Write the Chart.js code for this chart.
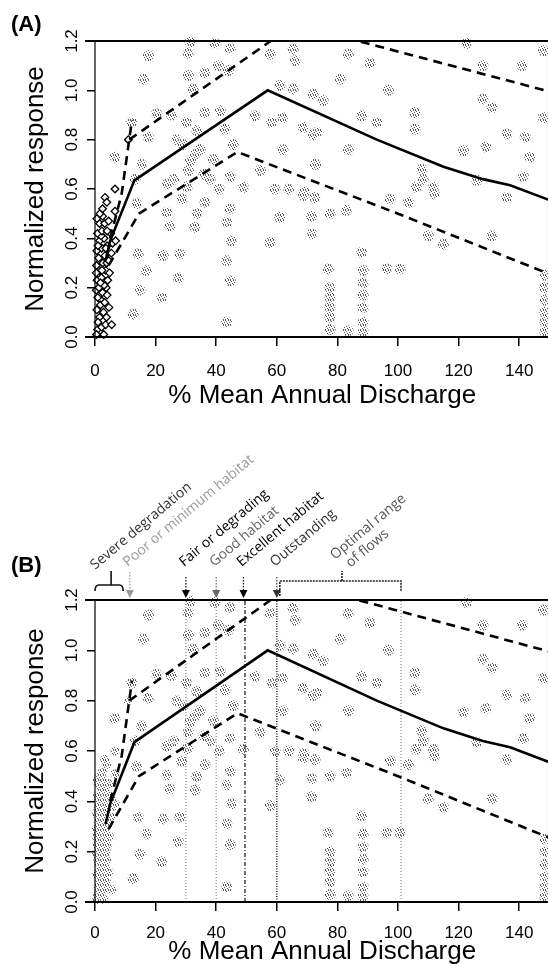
<!DOCTYPE html>
<html>
<head>
<meta charset="utf-8">
<script src="https://cdn.jsdelivr.net/npm/chart.js@4.4.1/dist/chart.umd.min.js"></script>
<style>
  html, body { margin: 0; padding: 0; background: #fff; }
  #page { position: relative; width: 548px; height: 964px; overflow: hidden; font-family: "Liberation Sans", Arial, sans-serif; }
  canvas { position: absolute; left: 0; }
  .tag { position: absolute; left: 11px; font-size: 22px; font-weight: bold; color: #000; }
</style>
</head>
<body>
<div id="page">
  <canvas id="chartA" width="555" height="420" style="top:0px"></canvas>
  <canvas id="chartB" width="555" height="560" style="top:420px"></canvas>
  <div class="tag" style="top:11px">(A)</div>
  <div class="tag" style="top:552px">(B)</div>
</div>
<script>
const xTicks = [0, 20, 40, 60, 80, 100, 120, 140];
const yTicks = [0, 0.2, 0.4, 0.6, 0.8, 1.0, 1.2];
const yTickText = ['0.0', '0.2', '0.4', '0.6', '0.8', '1.0', '1.2'];

// fitted response and its upper / lower bounds
const fitX = [3.5, 5, 13, 57, 93, 115, 128, 137, 150];
const fitY = [0.31, 0.39, 0.635, 1.0, 0.80, 0.69, 0.64, 0.615, 0.555];
const upperX = [5, 8.8, 12.2, 12, 11.3, 58, 65.8, 93, 150];
const upperY = [0.40, 0.58, 0.88, null, 0.80, 1.2, 1.267, 1.18, 0.995];
const lowerX = [4.5, 14.5, 47, 100, 150];
const lowerY = [0.29, 0.50, 0.75, 0.50, 0.255];

// observations at very low flows (diamonds in A)
const lowFlowPoints = [
  [0.8, 0.03], [2.2, 0.04], [3.5, 0.05], [1.5, 0.08], [2.8, 0.10], [0.6, 0.11], [5.5, 0.05],
  [1.0, 0.06], [3.8, 0.08], [2.0, 0.15], [0.4, 0.19], [3.7, 0.20], [0.5, 0.01], [2.9, 0.01],
  [1.8, 0.13], [3.2, 0.14], [0.9, 0.16], [2.5, 0.18], [4.0, 0.17], [1.3, 0.20], [4.6, 0.12],
  [3.0, 0.21], [0.7, 0.23], [2.1, 0.24], [4.2, 0.23], [1.5, 0.27], [3.5, 0.27], [0.5, 0.29], [2.6, 0.30], [2.3, 0.27],
  [4.8, 0.26], [1.8, 0.22], [0.4, 0.26], [3.9, 0.30],
  [4.5, 0.31], [1.2, 0.32], [3.3, 0.33], [5.4, 0.34], [0.6, 0.35], [2.2, 0.36], [4.0, 0.37], [1.5, 0.39],
  [3.0, 0.40], [5.8, 0.38], [6.8, 0.39], [1.0, 0.37], [3.6, 0.36], [2.0, 0.41], [5.2, 0.42],
  [0.8, 0.42], [2.3, 0.43], [4.0, 0.43], [1.5, 0.46], [3.2, 0.46], [0.6, 0.48], [2.5, 0.49], [4.5, 0.47], [6.6, 0.51],
  [1.6, 0.50], [3.3, 0.566], [3.9, 0.546], [6.6, 0.60], [2.5, 0.52], [11, 0.80]
];

// all other observations (grey stippled clumps)
const sitePoints = [
  [17.6, 1.14], [30.8, 1.15], [31.4, 1.195], [39.6, 1.19], [44.6, 1.17], [16, 1.045], [30.8, 1.06], [36.3, 1.07],
  [40.7, 1.10], [44, 1.08], [32.4, 1.005], [57.8, 1.147], [65.4, 1.167], [66, 1.12], [61, 1.02], [65.4, 1.005],
  [72, 0.985], [12.1, 0.87], [20.3, 0.905], [25.3, 0.90], [30.2, 0.87], [36.3, 0.91], [41.3, 0.917], [33.6, 0.837],
  [42.9, 0.843], [52.8, 0.897], [58.3, 0.87], [62, 0.89], [68.7, 0.85], [72, 0.82], [17.6, 0.81], [6.6, 0.73],
  [15.4, 0.70], [34.7, 0.76], [31.4, 0.715], [39, 0.72], [45.6, 0.78], [30.8, 0.675], [44.6, 0.65], [54.5, 0.675],
  [62, 0.76], [23.7, 0.62], [13.2, 0.64], [30.5, 0.61], [49, 0.607], [59.4, 0.60], [64, 0.60], [69, 0.59], [73, 0.70],
  [27, 0.80], [29, 0.78], [33, 0.74], [36, 0.66], [38, 0.64], [41, 0.60], [26, 0.64],
  [83.6, 1.147], [90.8, 1.11], [80.9, 1.045], [96.8, 1.0], [75.3, 0.958], [88, 0.897], [93, 0.87], [73.2, 0.83],
  [105.6, 0.91], [105.6, 0.843], [83.6, 0.76], [72.6, 0.70], [107.8, 0.68], [108.3, 0.64], [106, 0.607], [111.7, 0.607],
  [121.6, 0.755], [128, 1.10], [128, 0.965], [131, 0.93], [141, 1.10], [148, 1.16], [148, 0.89], [135.9, 0.823],
  [142, 0.81], [129, 0.77], [143.5, 0.73], [141.4, 0.65], [126, 0.635], [122.6, 1.19],
  [13.7, 0.54], [23.7, 0.505], [24.7, 0.45], [28.6, 0.56], [36.3, 0.546], [33.6, 0.5], [33, 0.445], [44.6, 0.52],
  [43.5, 0.465], [61, 0.485], [57.8, 0.383], [71.5, 0.49], [71.5, 0.418], [68.7, 0.573], [45, 0.39], [14.3, 0.337],
  [22.5, 0.33], [28, 0.337], [43.5, 0.31], [17, 0.27], [27.5, 0.24], [44.6, 0.228], [14.8, 0.19], [22, 0.16],
  [12.6, 0.093], [43.5, 0.06],
  [72.6, 0.566], [77.6, 0.5], [83, 0.513], [97.4, 0.56], [103.4, 0.546], [112, 0.58], [135.9, 0.566],
  [110, 0.41], [115, 0.377], [131, 0.41], [88, 0.343], [77, 0.276], [96.3, 0.276], [100.7, 0.276],
  [77.6, 0.20], [77.6, 0.16], [77.6, 0.12], [77.6, 0.08], [77.6, 0.03],
  [88.5, 0.27], [88.5, 0.22], [88.5, 0.17], [88.5, 0.12], [88.5, 0.06], [88.5, 0.02], [83.5, 0.025],
  [148.5, 0.25], [148.5, 0.20], [148.5, 0.15], [148.5, 0.10], [148.5, 0.06], [148.5, 0.02]
];

// habitat classes marked above panel B
const thresholdNames = ['Poor or minimum habitat', 'Fair or degrading', 'Good habitat', 'Excellent habitat', 'Outstanding'];
const thresholdX = [11.5, 30, 40, 49, 60];
const severeRange = [0, 9.3];
const optimalRange = [60, 101];
const guideX = [30, 40, 49.5, 60, 101];

const FONT = '"Liberation Sans", Arial, sans-serif';
Chart.defaults.font.family = FONT;
Chart.defaults.color = '#000';

function stipple() {
  const c = document.createElement('canvas');
  c.width = 5; c.height = 5;
  const g = c.getContext('2d');
  g.fillStyle = '#5a5a5a';
  [[0, 0], [3, 0], [1, 1], [4, 2], [2, 3], [0, 4], [3, 4]].forEach(p => g.fillRect(p[0], p[1], 1, 1));
  return g.createPattern(c, 'repeat');
}

const toXY = (xs, ys) => xs.map((x, i) => ({ x: x, y: ys[i] }));
const pairs = arr => arr.map(p => ({ x: p[0], y: p[1] }));

function curveSets() {
  return [
    { data: toXY(fitX, fitY), showLine: true, borderColor: '#000', borderWidth: 2.6, pointRadius: 0, clip: 1 },
    { data: toXY(upperX, upperY), showLine: true, borderColor: '#000', borderWidth: 2.6, borderDash: [9, 6], pointRadius: 0, clip: 1 },
    { data: toXY(lowerX, lowerY), showLine: true, borderColor: '#000', borderWidth: 2.6, borderDash: [9, 6], pointRadius: 0, clip: 1 }
  ];
}

const frame = {
  id: 'frame',
  afterDraw(chart) {
    const { ctx, chartArea: a, scales: { x, y } } = chart;
    const yTop = y.getPixelForValue(1.2), yBot = y.getPixelForValue(0);
    const xR = x.getPixelForValue(150);
    ctx.save();
    ctx.strokeStyle = '#000';
    ctx.lineWidth = 2;
    ctx.beginPath();
    ctx.moveTo(a.left - 10, yTop); ctx.lineTo(xR, yTop);
    ctx.moveTo(a.left - 10, yBot); ctx.lineTo(xR, yBot);
    ctx.stroke();
    ctx.lineWidth = 1.2;
    ctx.beginPath();
    ctx.moveTo(x.getPixelForValue(0), yTop); ctx.lineTo(x.getPixelForValue(0), yBot);
    ctx.stroke();
    ctx.strokeStyle = '#666';
    ctx.setLineDash([1.5, 1.5]);
    ctx.beginPath();
    ctx.moveTo(xR - 1, yTop); ctx.lineTo(xR - 1, yBot);
    ctx.stroke();
    ctx.setLineDash([]);
    // y tick labels, turned like the original
    ctx.fillStyle = '#000';
    ctx.font = '17px ' + FONT;
    ctx.textAlign = 'center';
    ctx.textBaseline = 'middle';
    yTicks.forEach((v, i) => {
      ctx.save();
      ctx.translate(72, y.getPixelForValue(v));
      ctx.rotate(-Math.PI / 2);
      ctx.fillText(yTickText[i], 0, 0);
      ctx.restore();
    });
    ctx.restore();
  }
};

const habitatNotes = {
  id: 'habitatNotes',
  afterDraw(chart) {
    const { ctx, scales: { x, y } } = chart;
    const top = y.getPixelForValue(1.2);
    const ang = -40 * Math.PI / 180;
    ctx.save();

    function label(text, sx, sy, color, dx, dy) {
      ctx.save();
      ctx.translate(sx, sy);
      ctx.rotate(ang);
      ctx.fillStyle = color;
      ctx.font = '14px "Open Sans", sans-serif';
      ctx.textAlign = 'left';
      ctx.textBaseline = 'alphabetic';
      ctx.fillText(text, dx || 0, dy || 0);
      ctx.restore();
    }
    function arrow(px, y0, color) {
      ctx.strokeStyle = color;
      ctx.fillStyle = color;
      ctx.lineWidth = 1.2;
      ctx.setLineDash([1.5, 1.5]);
      ctx.beginPath(); ctx.moveTo(px, y0); ctx.lineTo(px, top - 9); ctx.stroke();
      ctx.setLineDash([]);
      ctx.beginPath();
      ctx.moveTo(px - 4, top - 10); ctx.lineTo(px + 4, top - 10); ctx.lineTo(px, top - 2);
      ctx.closePath(); ctx.fill();
    }

    const colors = ['#9a9a9a', '#000', '#666', '#000', '#333'];
    thresholdNames.forEach((name, i) => {
      const px = x.getPixelForValue(thresholdX[i]);
      arrow(px, i === 0 ? top - 28 : top - 23, colors[i]);
      label(name, px - 2, top - 33, colors[i]);
    });

    // severe degradation brace
    const sl = x.getPixelForValue(severeRange[0]), sr = x.getPixelForValue(severeRange[1]);
    const sm = (sl + sr) / 2 + 2;
    ctx.strokeStyle = '#111';
    ctx.lineWidth = 1.6;
    ctx.beginPath();
    ctx.moveTo(sl, top - 9); ctx.quadraticCurveTo(sl, top - 15, sl + 4, top - 15);
    ctx.lineTo(sr - 4, top - 15); ctx.quadraticCurveTo(sr, top - 15, sr, top - 9);
    ctx.moveTo(sm, top - 15); ctx.lineTo(sm, top - 29);
    ctx.stroke();
    label('Severe degradation', sl, top - 30, '#333');

    // optimal range brace
    const ol = x.getPixelForValue(optimalRange[0]), orr = x.getPixelForValue(optimalRange[1]);
    const om = x.getPixelForValue((optimalRange[0] + optimalRange[1]) / 2 + 1);
    ctx.strokeStyle = '#222';
    ctx.setLineDash([2, 1]);
    ctx.beginPath();
    ctx.moveTo(ol + 3, top - 4); ctx.lineTo(ol + 3, top - 19);
    ctx.lineTo(orr, top - 19); ctx.lineTo(orr, top - 9);
    ctx.moveTo(om, top - 19); ctx.lineTo(om, top - 29);
    ctx.stroke();
    ctx.setLineDash([]);
    label('Optimal range', om - 7, top - 40, '#555');
    label('of flows', om - 7, top - 40, '#555', 7, 16);

    ctx.restore();
  }
};

function makeChart(id, padTop, axisHeight, tickPad, titlePad, datasets, plugins) {
  return new Chart(document.getElementById(id), {
    type: 'scatter',
    data: { datasets: datasets },
    options: {
      responsive: false,
      animation: false,
      events: [],
      layout: { padding: { top: padTop, left: 0, right: 0, bottom: 0 } },
      plugins: { legend: { display: false }, tooltip: { enabled: false } },
      scales: {
        x: {
          type: 'linear', min: 0, max: 150,
          afterBuildTicks: s => { s.ticks = xTicks.map(v => ({ value: v })); },
          afterFit: s => { s.height = axisHeight; },
          border: { display: false },
          grid: { drawOnChartArea: false, drawTicks: true, tickLength: 9, color: '#000', lineWidth: 1.5 },
          ticks: { font: { size: 17 }, color: '#000', padding: tickPad, maxRotation: 0, autoSkip: false, callback: v => String(v) },
          title: { display: true, text: '% Mean Annual Discharge', font: { size: 26 }, color: '#000', padding: { top: 0, bottom: titlePad } }
        },
        y: {
          type: 'linear', min: 0, max: 1.2,
          afterBuildTicks: s => { s.ticks = yTicks.map(v => ({ value: v })); },
          afterFit: s => { s.width = 95; },
          border: { display: false },
          grid: { drawOnChartArea: false, drawTicks: true, tickLength: 8, color: '#000', lineWidth: 1.5 },
          ticks: { display: false },
          title: { display: true, text: 'Normalized response', font: { size: 26 }, color: '#000', padding: { top: 20, bottom: 0 } }
        }
      }
    },
    plugins: plugins
  });
}

const grey = stipple();

// panel A
makeChart('chartA', 41, 83, 15, 9, curveSets().concat([
  { data: pairs(lowFlowPoints), pointStyle: 'rectRot', pointRadius: 3.8, borderColor: '#000', borderWidth: 1.3, backgroundColor: '#fff', clip: 6 },
  { data: pairs(sitePoints), pointStyle: 'circle', pointRadius: 5.5, borderWidth: 0, backgroundColor: grey, clip: 6 }
]), [frame]);

// panel B
const guideStyles = [
  { color: '#888', dash: [1, 2], width: 1.2 },
  { color: '#888', dash: [1, 2], width: 1.2 },
  { color: '#222', dash: [4, 2, 1, 2], width: 1.3 },
  { color: '#222', dash: [1, 1.5], width: 1.5 },
  { color: '#888', dash: [1, 2], width: 1.2 }
];
const guideSets = guideX.map((gx, i) => ({
  data: [{ x: gx, y: 0 }, { x: gx, y: 1.2 }], showLine: true, pointRadius: 0,
  borderColor: guideStyles[i].color, borderDash: guideStyles[i].dash, borderWidth: guideStyles[i].width
}));
makeChart('chartB', 180, 78, 12, 13, curveSets().concat([
  { data: pairs(lowFlowPoints), pointStyle: 'circle', pointRadius: 4.5, borderWidth: 0, backgroundColor: grey, clip: 6 },
  { data: pairs(sitePoints), pointStyle: 'circle', pointRadius: 5.5, borderWidth: 0, backgroundColor: grey, clip: 6 }
], guideSets), [frame, habitatNotes]);
</script>
</body>
</html>
